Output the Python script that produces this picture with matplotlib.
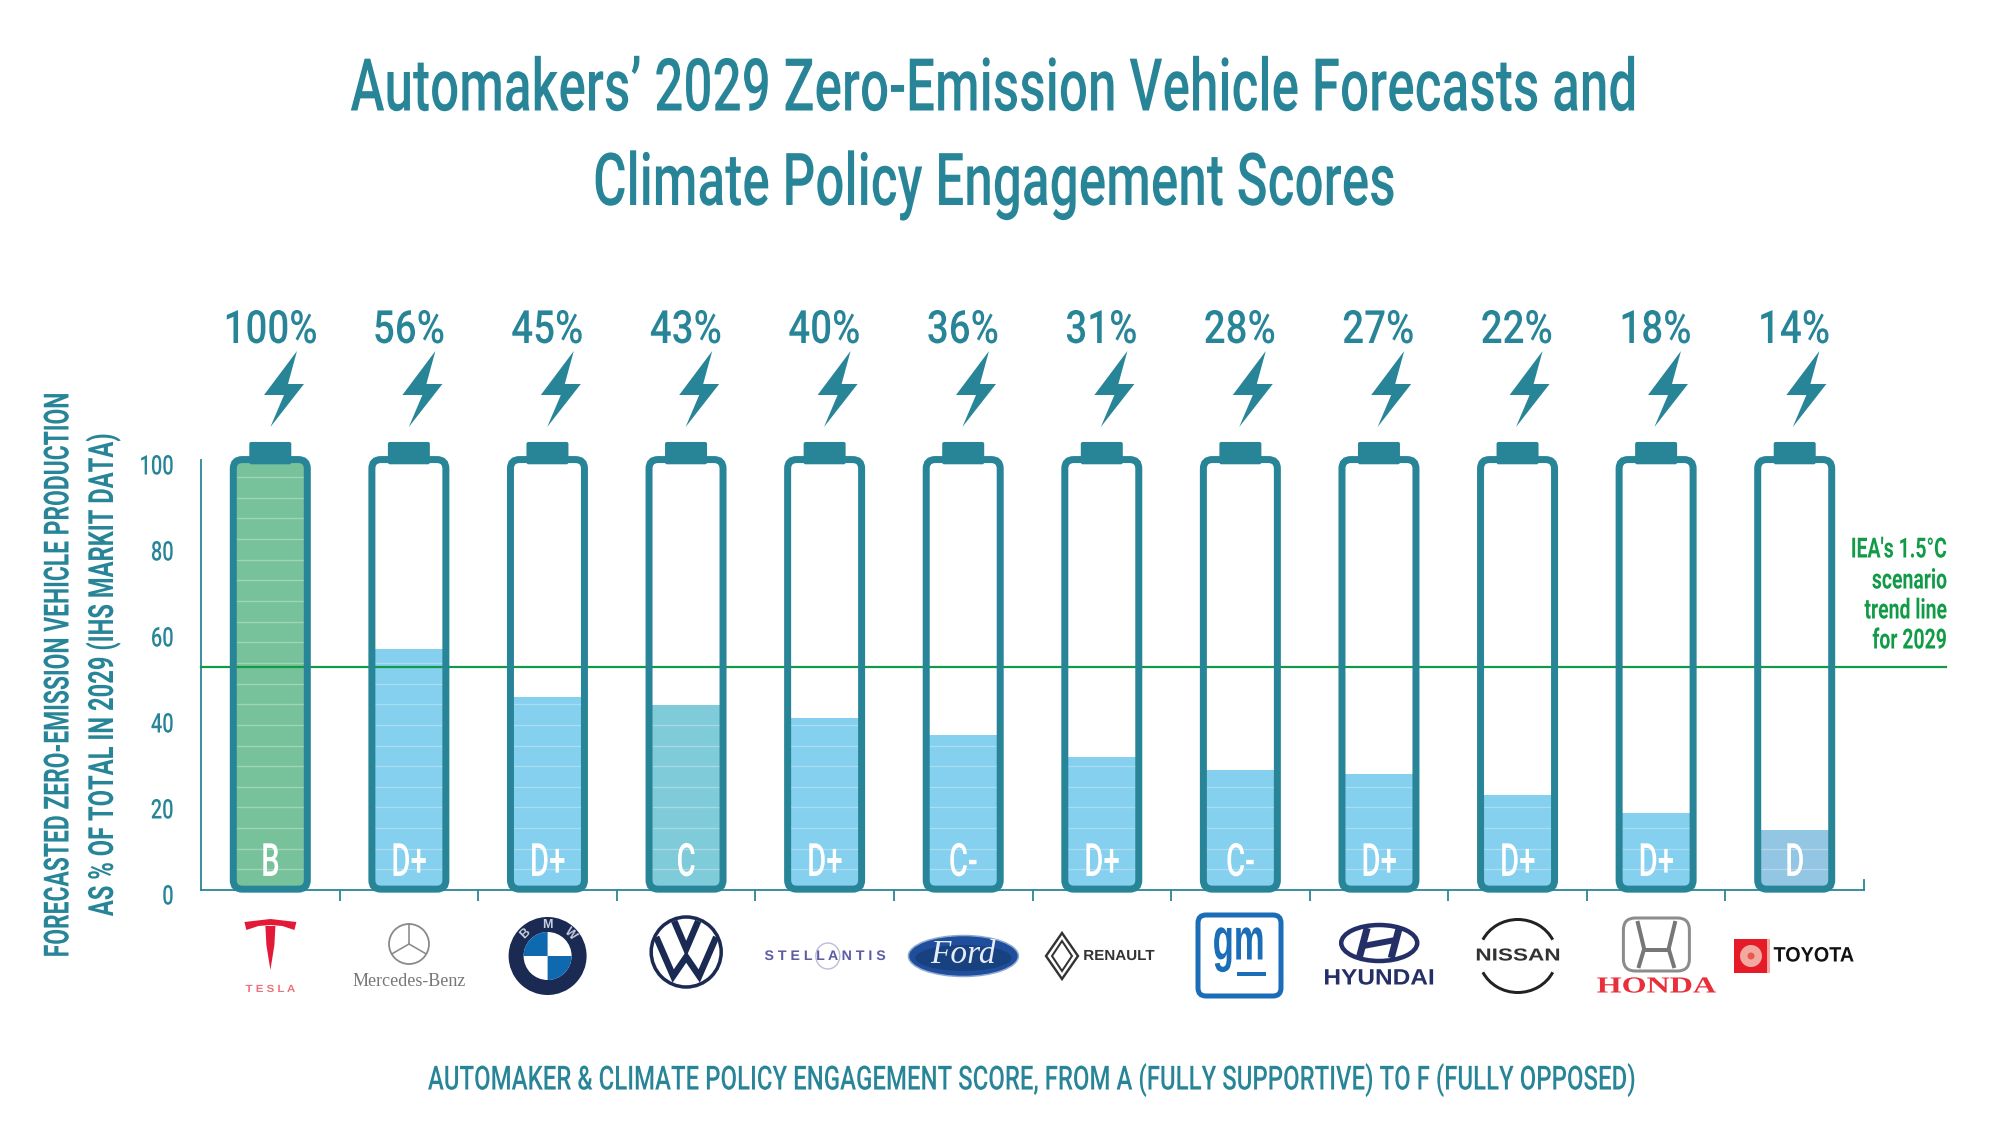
import matplotlib
matplotlib.use("Agg")

import matplotlib.pyplot as plt
import matplotlib.patheffects as pe
from matplotlib.patches import Ellipse, FancyBboxPatch, Polygon, Circle, Arc
from matplotlib.transforms import Affine2D
import numpy as np

makers = ["Tesla", "Mercedes-Benz", "BMW", "Volkswagen", "Stellantis", "Ford",
          "Renault", "GM", "Hyundai", "Nissan", "Honda", "Toyota"]
zev_share = [100, 56, 45, 43, 40, 36, 31, 28, 27, 22, 18, 14]
scores = ["B", "D+", "D+", "C", "D+", "C-", "D+", "C-", "D+", "D+", "D+", "D"]
y_ticks = [0, 20, 40, 60, 80, 100]
iea_trend = 51.8

score_colors = {"B": "#78C29B", "C": "#80CBD9", "C-": "#85CFEF", "D+": "#85CFEF", "D": "#93C6E2"}
TEAL = "#288598"
GREEN = "#129B47"
NAVY = "#1B2A52"

W, H = 2001, 1121
FONT = ["Roboto", "DejaVu Sans"]
SANS = ["Liberation Sans", "DejaVu Sans"]
SERIF = ["Liberation Serif", "DejaVu Serif"]


class Squeeze(pe.AbstractPathEffect):
    # narrows the glyphs of a text so the fonts here get close to the condensed original
    def __init__(self, sx, anchor="center"):
        super().__init__()
        self.sx = sx
        self.anchor = anchor

    def draw_path(self, renderer, gc, tpath, affine, rgbFace=None):
        ext = tpath.get_extents()
        x0 = ext.x1 if self.anchor == "right" else (ext.x0 + ext.x1) / 2
        squeeze = Affine2D().translate(-x0, 0).scale(self.sx, 1).translate(x0, 0)
        renderer.draw_path(gc, tpath, squeeze + affine, rgbFace)


fig = plt.figure(figsize=(W / 100, H / 100), dpi=100, facecolor="white")
ax = fig.add_axes([201 / W, (H - 890) / H, 1663 / W, 430 / H])
ax.set_xlim(-0.5, 11.5)
ax.set_ylim(0, 100)

# top-left pixel coordinates for the logos and bolts
pix = Affine2D().scale(1, -1).translate(0, H)


def px(v):
    return v * 72 / 100


def label(x, y, s, size, color=TEAL, sx=1.0, ha="center", rotation=0, weight="bold", family=None, style="normal"):
    t = fig.text(x / W, 1 - y / H, s, fontsize=size, color=color, ha=ha, va="center",
                 rotation=rotation, rotation_mode="anchor", fontweight=weight,
                 family=family or FONT, fontstyle=style)
    if sx != 1.0:
        t.set_path_effects([Squeeze(sx, "right" if ha == "right" else "center")])
    return t


def add(patch):
    patch.set_transform(pix)
    patch.set_clip_on(False)
    fig.add_artist(patch)
    return patch


def line(xs, ys, color, lw, cap="round"):
    ln = plt.Line2D(xs, ys, color=color, lw=px(lw), transform=pix, solid_capstyle=cap, solid_joinstyle="miter")
    fig.add_artist(ln)


def draw_tesla(c):
    add(Polygon([(c - 5, 926), (c + 5, 926), (c + 4, 945), (c, 970), (c - 4, 945)], fc="#E31937", ec="none"))
    add(Polygon([(c - 26, 922), (c, 919), (c + 26, 922), (c + 24, 930), (c + 12, 926), (c, 925), (c - 12, 926), (c - 24, 930)], fc="#E31937", ec="none"))
    label(c, 989, "T E S L A", 7.5, "#EC7380", sx=1.1, family=SANS)


def draw_mercedes(c):
    cy = 944
    add(Circle((c, cy), 20, fc="none", ec="#8A8A8A", lw=px(1.8)))
    for a in [90, 210, 330]:
        dx, dy = 20 * np.cos(np.radians(a)), -20 * np.sin(np.radians(a))
        line([c, c + dx], [cy, cy + dy], "#8A8A8A", 1.6)
    label(c, 982, "Mercedes-Benz", 13, "#777777", weight="normal", family=SERIF)


def draw_bmw(c):
    cy = 956
    add(Circle((c, cy), 39, fc=NAVY, ec="none"))
    add(Circle((c, cy), 24, fc="white", ec="none"))
    for t1, t2 in [(90, 180), (270, 360)]:
        a = np.radians(np.linspace(t1, t2, 30))
        pts = [(c, cy)] + list(zip(c + 24 * np.cos(a), cy - 24 * np.sin(a)))
        add(Polygon(pts, fc="#0F69AF", ec="none"))
    for ch, a in zip("BMW", [135, 90, 45]):
        tx, ty = c + 31.5 * np.cos(np.radians(a)), cy - 31.5 * np.sin(np.radians(a))
        label(tx, ty, ch, 9, "#C9CFDD", rotation=a - 90, family=SANS)


def draw_vw(c):
    add(Circle((c, 952), 35, fc="none", ec=NAVY, lw=px(3.5)))
    line([c - 30, c - 13, c, c + 13, c + 30], [937, 976, 957, 976, 937], NAVY, 6.5, "butt")
    line([c - 12, c, c + 12], [921, 949, 921], NAVY, 6.5, "butt")


def draw_stellantis(c):
    label(c, 956, "S T E L L A N T I S", 10, "#5C5CA4", sx=1.02, family=SANS)
    add(Ellipse((c + 3, 956), 24, 26, fc="none", ec="#BDBDD9", lw=px(1.4)))


def draw_ford(c):
    add(Ellipse((c, 956), 110, 41, fc="#1F4E9C", ec="#8FA9CF", lw=px(1.5)))
    add(Ellipse((c, 958), 96, 26, fc="#17417F", ec="none"))
    label(c, 955, "Ford", 24, "#E6EDF6", style="italic", weight="normal", family=SERIF)


def draw_renault(c):
    add(Polygon([(1062, 933), (1078, 956), (1062, 979), (1046, 956)], fc="none", ec="#333333", lw=px(2.4)))
    add(Polygon([(1062, 941), (1072, 956), (1062, 971), (1052, 956)], fc="none", ec="#333333", lw=px(2)))
    label(1119, 956, "RENAULT", 10.5, "#333333", sx=1.04, family=SANS)


def draw_gm(c):
    add(FancyBboxPatch((1198, 915), 83, 81, boxstyle="round,pad=0,rounding_size=8", fc="white", ec="#1B6DB8", lw=px(5)))
    label(1239, 944, "gm", 43, "#1B6DB8", sx=0.58, family=SANS)
    line([1237, 1266], [974, 974], "#1B6DB8", 4, "butt")


def draw_hyundai(c):
    add(Ellipse((c, 943), 76, 36, fc="none", ec="#232F66", lw=px(4.5)))
    line([c - 12, c - 20], [928, 958], "#232F66", 7, "butt")
    line([c + 20, c + 12], [928, 958], "#232F66", 7, "butt")
    line([c - 16, c + 16], [946, 940], "#232F66", 6, "butt")
    label(c, 979, "HYUNDAI", 16, "#232F66", sx=1.1, family=SANS)


def draw_nissan(c):
    add(Arc((c, 956), 78, 73, theta1=205, theta2=335, ec="#222222", lw=px(3)))
    add(Arc((c, 956), 78, 73, theta1=25, theta2=155, ec="#222222", lw=px(3)))
    label(c, 956, "NISSAN", 12.5, "#333333", sx=1.3, family=SANS)


def draw_honda(c):
    add(FancyBboxPatch((c - 33, 918), 66, 53, boxstyle="round,pad=0,rounding_size=12", fc="none", ec="#8C8C8C", lw=px(3)))
    line([c - 19, c - 12, c - 12, c + 12, c + 12, c + 19], [921, 950, 950, 950, 950, 921], "#777777", 4, "butt")
    line([c - 12, c - 18], [948, 968], "#777777", 4, "butt")
    line([c + 12, c + 18], [948, 968], "#777777", 4, "butt")
    label(c, 987, "HONDA", 16.5, "#E8303A", sx=1.4, family=SERIF)


def draw_toyota(c):
    add(plt.Rectangle((1734, 939), 36, 34, fc="#F2A99F", ec="none"))
    add(plt.Rectangle((1734, 939), 33, 34, fc="#E51C27", ec="none"))
    add(Circle((1751, 956), 11, fc="#F2A99F", ec="none"))
    add(Circle((1751, 956), 3.5, fc="#E8584F", ec="none"))
    label(1814, 956, "TOYOTA", 15, "#111111", sx=0.95, family=SANS)


logo_drawers = [draw_tesla, draw_mercedes, draw_bmw, draw_vw, draw_stellantis, draw_ford,
                draw_renault, draw_gm, draw_hyundai, draw_nissan, draw_honda, draw_toyota]

xs = np.arange(len(makers))
bar_w = 74 / 138.6
y_per_x = 138.6 / 4.3

bars = ax.bar(xs, zev_share, width=bar_w, color=[score_colors[s] for s in scores], zorder=2)
for i, b in zip(xs, bars):
    shell = FancyBboxPatch((i - bar_w / 2, 0.2), bar_w, 99.9,
                           boxstyle="round,pad=0,rounding_size=%f" % (9 / 138.6),
                           mutation_aspect=y_per_x, fc="none", ec=TEAL, lw=px(7),
                           zorder=5, clip_on=False)
    ax.add_patch(shell)
    cap = FancyBboxPatch((i - 21 / 138.6, 99), 42 / 138.6, 5.2,
                         boxstyle="round,pad=0,rounding_size=%f" % (2 / 138.6),
                         mutation_aspect=y_per_x, fc=TEAL, ec="none", zorder=5, clip_on=False)
    ax.add_patch(cap)
    b.set_clip_path(shell)
    # faint level marks inside the charge
    for lvl in np.arange(4.8, zev_share[i], 4.8):
        ax.plot([i - bar_w / 2, i + bar_w / 2], [lvl, lvl], color="white", alpha=0.3, lw=px(1.3), zorder=3)
    ax.text(i, 6.3, scores[i], color="white", fontsize=33, ha="center", va="center", family=FONT,
            fontweight="medium", zorder=6, path_effects=[Squeeze(0.64)])

ax.plot([-0.5, 12.09], [iea_trend, iea_trend], color=GREEN, lw=px(2.2), zorder=4, clip_on=False)

for s in ["top", "right"]:
    ax.spines[s].set_visible(False)
for s in ["left", "bottom"]:
    ax.spines[s].set_color(TEAL)
    ax.spines[s].set_linewidth(px(1.8))
ax.patch.set_alpha(0)
ax.set_xticks(np.arange(0.5, 11))
ax.set_xticklabels([])
ax.tick_params(axis="x", length=px(11), width=px(1.8), color=TEAL)
ax.set_yticks([])
ax.plot([11.5, 11.5], [0, 2.4], color=TEAL, lw=px(1.8), clip_on=False, zorder=1)

for v in y_ticks:
    label(174, 891 - v * 4.3 + 6, str(v), 19.5, sx=0.74, ha="right", weight="medium")

bolt = np.array([(26.6, 351), (-6.4, 395), (13.6, 395), (0, 427), (33.6, 384), (17.6, 384)])
for i in xs:
    add(Polygon(bolt + [270.4 + 138.4 * i, 0], fc=TEAL, ec="none"))
    label(270.4 + 138.5 * i, 330, "%d%%" % zev_share[i], 33, sx=0.84, weight="medium")
    logo_drawers[i](270.4 + 138.6 * i)

label(994, 91, "Automakers’ 2029 Zero-Emission Vehicle Forecasts and", 52.5, sx=0.703, weight="medium")
label(994, 186, "Climate Policy Engagement Scores", 52.5, sx=0.703, weight="medium")

label(1032, 1080, "AUTOMAKER & CLIMATE POLICY ENGAGEMENT SCORE, FROM A (FULLY SUPPORTIVE) TO F (FULLY OPPOSED)", 24, sx=0.72, weight="medium")

label(59, 674, "FORECASTED ZERO-EMISSION VEHICLE PRODUCTION", 25, rotation=90, sx=0.658)
label(103, 674, "AS % OF TOTAL IN 2029 (IHS MARKIT DATA)", 25, rotation=90, sx=0.683)

for y, s in zip([550, 581, 611, 641], ["IEA's 1.5°C", "scenario", "trend line", "for 2029"]):
    label(1947, y, s, 20, GREEN, ha="right", sx=0.7)

fig.savefig("out.png", dpi=100, facecolor="white")
